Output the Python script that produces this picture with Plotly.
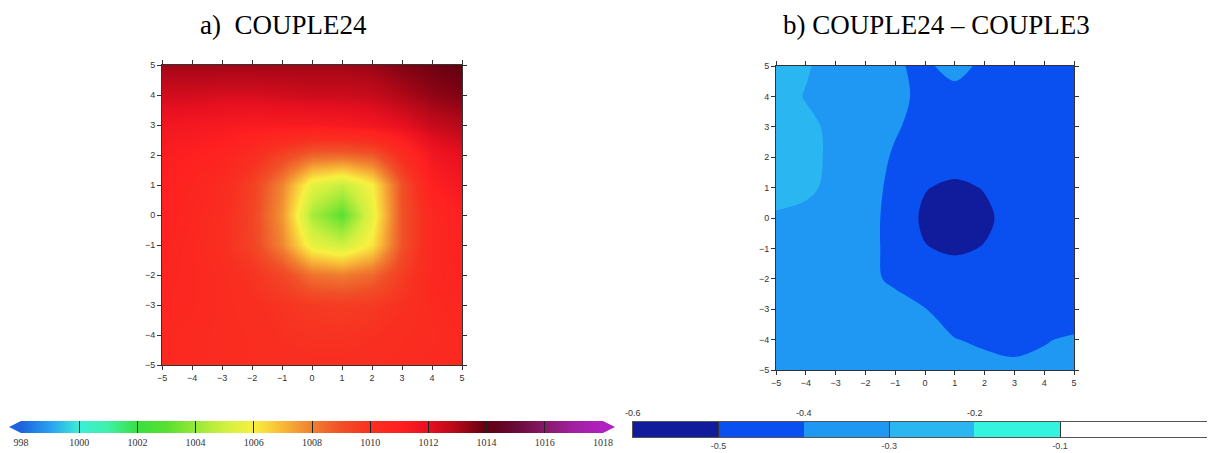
import plotly.graph_objects as go

# ---------------- data ----------------
grid_x = [-5, -4, -3, -2, -1, 0, 1, 2, 3, 4, 5]
grid_y = [-5, -4, -3, -2, -1, 0, 1, 2, 3, 4, 5]

# a) COUPLE24 sea-level pressure (hPa), rows y=-5 ... 5
slp_couple24 = [
    [1010.5, 1010.4, 1010.3, 1010.2, 1010.2, 1010.1, 1010.1, 1010.2, 1010.3, 1010.4, 1010.5],
    [1010.5, 1010.4, 1010.3, 1010.2, 1010.0, 1009.9, 1009.9, 1010.0, 1010.2, 1010.3, 1010.5],
    [1010.6, 1010.5, 1010.3, 1010.1, 1009.9, 1009.7, 1009.6, 1009.7, 1010.0, 1010.4, 1010.6],
    [1010.7, 1010.5, 1010.3, 1009.9, 1009.3, 1008.3, 1008.1, 1008.5, 1009.6, 1010.5, 1010.8],
    [1010.8, 1010.5, 1010.1, 1009.4, 1007.9, 1005.6, 1005.0, 1006.2, 1009.0, 1010.5, 1010.9],
    [1010.9, 1010.6, 1010.2, 1009.4, 1007.6, 1004.3, 1003.0, 1005.6, 1009.0, 1010.5, 1011.0],
    [1011.0, 1010.7, 1010.3, 1009.5, 1007.9, 1005.5, 1004.8, 1006.0, 1009.0, 1011.0, 1011.5],
    [1011.2, 1011.0, 1010.8, 1010.2, 1009.4, 1008.6, 1008.5, 1008.8, 1010.2, 1011.6, 1012.0],
    [1011.6, 1011.5, 1011.4, 1011.3, 1011.3, 1011.3, 1011.4, 1011.6, 1012.0, 1012.6, 1012.9],
    [1012.4, 1012.4, 1012.3, 1012.3, 1012.4, 1012.5, 1012.5, 1012.6, 1013.0, 1013.4, 1013.6],
    [1013.2, 1013.2, 1013.2, 1013.2, 1013.2, 1013.2, 1013.2, 1013.3, 1013.6, 1013.8, 1014.0],
]

# b) COUPLE24 - COUPLE3 difference, rows y=-5 ... 5
slp_diff = [
    [-0.32, -0.33, -0.34, -0.35, -0.36, -0.37, -0.38, -0.38, -0.385, -0.38, -0.37],
    [-0.32, -0.33, -0.34, -0.35, -0.36, -0.37, -0.398, -0.41, -0.42, -0.405, -0.39],
    [-0.32, -0.33, -0.34, -0.35, -0.37, -0.398, -0.43, -0.44, -0.45, -0.45, -0.45],
    [-0.32, -0.33, -0.34, -0.38, -0.415, -0.44, -0.45, -0.45, -0.45, -0.45, -0.45],
    [-0.32, -0.33, -0.345, -0.37, -0.43, -0.495, -0.515, -0.495, -0.455, -0.45, -0.45],
    [-0.31, -0.32, -0.34, -0.37, -0.43, -0.52, -0.58, -0.52, -0.46, -0.45, -0.45],
    [-0.27, -0.285, -0.32, -0.37, -0.42, -0.495, -0.52, -0.495, -0.455, -0.45, -0.45],
    [-0.26, -0.28, -0.315, -0.36, -0.41, -0.44, -0.45, -0.45, -0.45, -0.45, -0.45],
    [-0.26, -0.28, -0.32, -0.35, -0.392, -0.43, -0.44, -0.45, -0.45, -0.45, -0.45],
    [-0.26, -0.305, -0.335, -0.36, -0.385, -0.415, -0.43, -0.44, -0.45, -0.45, -0.45],
    [-0.24, -0.29, -0.34, -0.36, -0.392, -0.415, -0.37, -0.42, -0.44, -0.45, -0.45],
]

axis_ticks = [-5, -4, -3, -2, -1, 0, 1, 2, 3, 4, 5]
cbar_a_ticks = [998, 1000, 1002, 1004, 1006, 1008, 1010, 1012, 1014, 1016, 1018]
diff_levels = [-0.6, -0.5, -0.4, -0.3, -0.2, -0.1, 0.0]
diff_colors = ["#101c9c", "#0a50f0", "#1e98f2", "#2ab6f0", "#34f4e0", "#ffffff"]
diff_bottom_labels = [-0.5, -0.3, -0.1]
diff_top_labels = [-0.6, -0.4, -0.2]

# ---------------- styling ----------------
# the page body has an 8px margin: figure origin sits at (8, 8) of the window
OFF = 8
W, H = 1215 - OFF, 453 - OFF
def px(x):
    return (x - OFF) / W
def py(y):
    return 1 - (y - OFF) / H

zmin_a, zmax_a = 998, 1018
cmap_a = [
    (998, "#1e64dc"), (999, "#28a0f0"), (1000, "#3ceed8"), (1001, "#40f0a8"),
    (1002, "#38e040"), (1003, "#58e030"), (1004, "#98e838"), (1005, "#d0f040"),
    (1006, "#f8f040"), (1007, "#f8b838"), (1008, "#f08030"), (1009, "#f05028"),
    (1010, "#f83020"), (1011, "#ff2020"), (1012, "#e81020"), (1013, "#b00818"),
    (1014, "#600010"), (1015, "#680a38"), (1016, "#881868"), (1017, "#a020a0"),
    (1018, "#b020c0"),
]
colorscale_a = [[(v - zmin_a) / (zmax_a - zmin_a), c] for v, c in cmap_a]

# contour fill colours: plotly samples colormap at level + size/2 with
# domain = p*(n)*size + start - size
c_start, c_end, c_size = diff_levels[0], diff_levels[-2], 0.1
n_lev = round((c_end - c_start) / c_size) + 1
def pc(v):
    return min(max((v - (c_start - c_size)) / (n_lev * c_size), 0), 1)
colorscale_b = []
for i in range(len(diff_colors) - 1):
    lo = pc(diff_levels[i]) if i > 0 else 0
    hi = pc(diff_levels[i + 1])
    if i == len(diff_colors) - 2:
        hi = 0.999
    colorscale_b.append([lo, diff_colors[i]])
    colorscale_b.append([hi, diff_colors[i]])
colorscale_b.append([hi, diff_colors[-1]])
colorscale_b.append([1, diff_colors[-1]])

n_c = len(diff_colors)
colorscale_strip = []
for i, c in enumerate(diff_colors):
    colorscale_strip.append([i / n_c, c])
    colorscale_strip.append([(i + 1) / n_c, c])
strip_x = [(diff_levels[i] + diff_levels[i + 1]) / 2 for i in range(n_c)]
strip_z = [[i for i in range(n_c)]]

fig = go.Figure()

fig.add_trace(go.Heatmap(
    x=grid_x, y=grid_y, z=slp_couple24, zsmooth="best",
    colorscale=colorscale_a, zmin=zmin_a, zmax=zmax_a,
    xaxis="x", yaxis="y",
    colorbar=dict(
        orientation="h", lenmode="pixels", len=582, thicknessmode="pixels", thickness=12,
        x=px(312), xanchor="center", y=py(421), yanchor="top", xpad=0, ypad=0,
        outlinewidth=0, tickmode="array", tickvals=cbar_a_ticks,
        ticks="inside", ticklen=12, tickwidth=1.2, tickcolor="#222",
        tickfont=dict(family="Liberation Serif", size=10, color="#333"),
    ),
))

fig.add_trace(go.Contour(
    x=grid_x, y=grid_y, z=slp_diff,
    autocontour=False,
    contours=dict(start=c_start, end=c_end, size=c_size, coloring="fill", showlines=False),
    line=dict(width=0),
    colorscale=colorscale_b, showscale=False,
    xaxis="x2", yaxis="y2",
))

fig.add_trace(go.Heatmap(
    x=strip_x, y=[0], z=strip_z, colorscale=colorscale_strip,
    zmin=0, zmax=n_c, showscale=False, xaxis="x3", yaxis="y3", hoverinfo="skip",
))

common_ax = dict(
    range=[-5, 5], tickmode="array", tickvals=axis_ticks, ticks="outside", ticklen=4,
    tickcolor="#333", mirror="ticks", showline=True, linecolor="#333", linewidth=1,
    showgrid=False, zeroline=False,
    tickfont=dict(family="Liberation Sans", size=9, color="#333"),
)

fig.update_layout(
    width=W, height=H, margin=dict(l=0, r=0, t=0, b=0, autoexpand=False),
    paper_bgcolor="white", plot_bgcolor="white", showlegend=False,
    xaxis=dict(domain=[px(162), px(462)], anchor="y", **common_ax),
    yaxis=dict(domain=[py(365), py(65)], anchor="x", **common_ax),
    xaxis2=dict(domain=[px(776), px(1074)], anchor="y2", **common_ax),
    yaxis2=dict(domain=[py(370), py(66)], anchor="x2", **common_ax),
    xaxis3=dict(
        domain=[px(633), 1.0], anchor="y3",
        range=[diff_levels[0], diff_levels[0] + (1215 - 633) / 854.0],
        tickmode="array", tickvals=diff_bottom_labels,
        ticktext=[str(v) for v in diff_bottom_labels],
        ticks="inside", ticklen=15, tickwidth=1, tickcolor="#333",
        showline=True, mirror=True, linecolor="#555", linewidth=1,
        showgrid=False, zeroline=False,
        tickfont=dict(family="Liberation Sans", size=9, color="#444"),
    ),
    yaxis3=dict(
        domain=[py(437), py(421.5)], anchor="x3", range=[-0.5, 0.5],
        showticklabels=False, ticks="", showgrid=False, zeroline=False,
        showline=True, linecolor="#555", linewidth=1,
    ),
)

annotations = [
    dict(text="a)  COUPLE24", x=px(283), y=1.0, xref="paper", yref="paper",
         showarrow=False, xanchor="center", yanchor="top",
         font=dict(family="Liberation Serif", size=27, color="black")),
    dict(text="b) COUPLE24 \u2013 COUPLE3", x=px(936), y=1.0, xref="paper", yref="paper",
         showarrow=False, xanchor="center", yanchor="top",
         font=dict(family="Liberation Serif", size=27, color="black")),
]
for v in diff_top_labels:
    annotations.append(dict(text=str(v), x=v, xref="x3", y=py(413), yref="paper",
                            showarrow=False, xanchor="center", yanchor="middle",
                            font=dict(family="Liberation Sans", size=9, color="#333")))
fig.update_layout(annotations=annotations)

# arrow-shaped ends of the left colour bar
fig.update_layout(shapes=[
    dict(type="path", xref="paper", yref="paper",
         path=f"M {px(21)} {py(421)} L {px(9)} {py(427)} L {px(21)} {py(433)} Z",
         fillcolor="#1e64dc", line=dict(width=0)),
    dict(type="path", xref="paper", yref="paper",
         path=f"M {px(603)} {py(421)} L {px(615)} {py(427)} L {px(603)} {py(433)} Z",
         fillcolor="#b020c0", line=dict(width=0)),
])

fig.write_html("out.html")
